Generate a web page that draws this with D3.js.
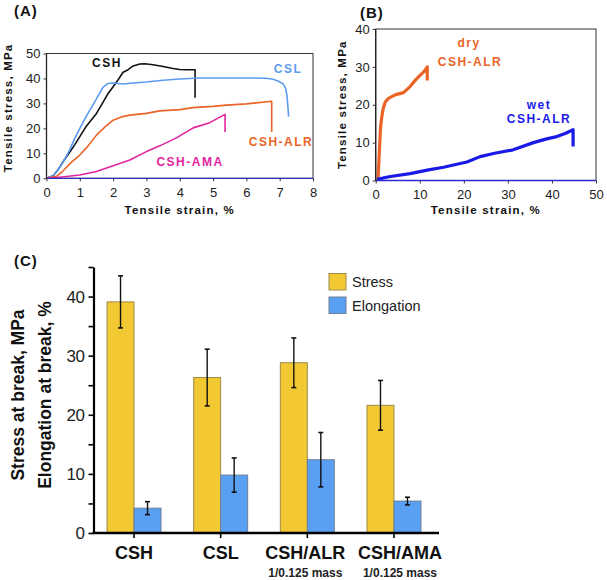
<!DOCTYPE html>
<html><head><meta charset="utf-8">
<script src="https://cdn.jsdelivr.net/npm/d3@7"></script>
<style>body{margin:0;background:#fff}svg{display:block}text{font-family:"Liberation Sans",Arial,sans-serif}</style>
</head><body><svg id="c" width="607" height="580"></svg>
<script>
// ---- Panel A data: [strain %, stress MPa]
const cshCurve = [[0,0],[0.2,1],[0.35,3.5],[0.5,6.7],[0.7,10.5],[0.85,13.5],[1,16.7],[1.2,21],[1.5,26],[1.7,30.5],[1.85,34],[2,36.7],[2.15,39.5],[2.3,42.5],[2.45,43.5],[2.6,45],[2.8,45.8],[2.95,45.9],[3.2,45.5],[3.5,44.8],[3.8,44],[4.0,43.6],[4.2,43.5],[4.46,43.5],[4.46,32.3]];
const cslCurve = [[0,0],[0.2,1],[0.35,3.5],[0.5,6.5],[0.7,11.5],[0.85,16],[1,20],[1.2,25],[1.4,29.5],[1.55,33],[1.7,36.5],[1.85,38],[2,38.2],[2.3,37.8],[2.6,38.2],[3,38.6],[3.5,39.3],[4,39.8],[4.6,40.2],[5.5,40.2],[6.3,40.2],[6.6,40.1],[6.8,39.7],[6.95,39],[7.1,37.9],[7.18,36],[7.22,33],[7.25,28],[7.27,24.7]];
const alrCurve = [[0,0],[0.3,0.8],[0.5,3],[0.75,6.5],[1,9.3],[1.25,13],[1.5,17.3],[1.75,20.5],[2,23.3],[2.25,24.6],[2.5,25.3],[3,26],[3.4,27],[4,27.5],[4.4,28.3],[5,28.8],[5.4,29.3],[6,29.8],[6.7,30.8],[6.76,30.8],[6.76,18.5]];
const amaCurve = [[0,0],[0.3,0.3],[0.6,0.7],[1,1.3],[1.25,2],[1.5,2.7],[2,5],[2.5,7.3],[3,10.7],[3.4,13],[3.9,16.2],[4.4,20.2],[4.9,22.3],[5.36,25.6],[5.36,18.5]];
const curveNamesA = ["CSH","CSL","CSH-ALR","CSH-AMA"];
const ticksA_x = [0,1,2,3,4,5,6,7,8];
const ticksA_y = [0,10,20,30,40,50];

// ---- Panel B data
const dryCurve = [[0.5,0],[0.6,2],[0.8,7],[1.1,14],[1.4,17],[1.7,19],[2.2,20.8],[2.9,21.7],[4.4,22.6],[6.3,23.2],[7.8,24.8],[9,26.5],[10,27.7],[11,28.8],[11.7,30],[11.7,26.4]];
const wetCurve = [[0.3,0.3],[3,1],[7.8,1.8],[12,2.8],[15.4,3.5],[20.7,4.9],[23.7,6.3],[27,7.2],[31.2,8.1],[35.8,10],[38.8,11],[41.1,11.6],[43,12.4],[44.8,13.4],[44.8,9]];
const ticksB_x = [0,10,20,30,40,50];
const ticksB_y = [0,10,20,30,40];

// ---- Panel C data
const categories = ["CSH","CSL","CSH/ALR","CSH/AMA"];
const subLabels = ["","","1/0.125 mass","1/0.125 mass"];
const seriesNames = ["Stress","Elongation"];
const stressMean = [39.1, 26.3, 28.8, 21.6];
const stressErr  = [4.4, 4.8, 4.2, 4.2];
const elongMean  = [4.2, 9.8, 12.4, 5.4];
const elongErr   = [1.1, 2.9, 4.6, 0.65];
const ticksC_y = [0,10,20,30,40];

const svg = d3.select("#c");
const line = d3.line();

// ================= Panel A =================
(function(){
  const x = d3.scaleLinear().domain([0,8]).range([46.5,313]);
  const y = d3.scaleLinear().domain([0,50]).range([178.3,53.5]);
  const styleA = [
    {pts:cshCurve, color:"#111111", lx:107, ly:67},
    {pts:cslCurve, color:"#5b9cf0", lx:288, ly:73},
    {pts:alrCurve, color:"#ea6428", lx:281, ly:146},
    {pts:amaCurve, color:"#e0259e", lx:190, ly:166}
  ];
  const g = svg.append("g");
  g.append("rect").attr("x",x(0)).attr("y",y(50)).attr("width",x(8)-x(0)).attr("height",y(0)-y(50))
    .attr("fill","none").attr("stroke","#333").attr("stroke-width",1);
  styleA.forEach((c,i)=>{
    g.append("path").attr("d",line.x(d=>x(d[0])).y(d=>y(d[1]))(c.pts))
      .attr("fill","none").attr("stroke",c.color).attr("stroke-width",1.6).attr("stroke-linejoin","round");
    g.append("text").attr("x",c.lx).attr("y",c.ly).attr("text-anchor","middle")
      .attr("font-size",12).attr("font-weight","bold").attr("letter-spacing",1.5)
      .attr("fill",c.color).text(curveNamesA[i]);
  });
  g.append("line").attr("x1",x(0)).attr("x2",x(8)).attr("y1",y(0)).attr("y2",y(0)).attr("stroke","#3030b8").attr("stroke-width",1.3);
  g.append("line").attr("x1",x(0)).attr("x2",x(0)).attr("y1",y(0)).attr("y2",y(50)).attr("stroke","#222").attr("stroke-width",1.3);
  const ax = g.append("g").attr("transform",`translate(0,${y(0)})`)
    .call(d3.axisBottom(x).tickValues(ticksA_x).tickSize(3).tickFormat(d3.format("d")));
  const ay = g.append("g").attr("transform",`translate(${x(0)},0)`)
    .call(d3.axisLeft(y).tickValues(ticksA_y).tickSize(3).tickFormat(d3.format("d")));
  [ax,ay].forEach(a=>{a.select(".domain").remove(); a.selectAll("line").attr("stroke","#333");
    a.selectAll("text").attr("font-size",13).attr("fill","#222").attr("font-family","Liberation Sans, Arial, sans-serif");});
  ax.selectAll("text").attr("dy","0.95em");
  g.append("text").attr("x",(x(0)+x(8))/2).attr("y",214).attr("text-anchor","middle")
    .attr("font-size",11.5).attr("font-weight","bold").attr("letter-spacing",1.2).attr("fill","#111").text("Tensile strain, %");
  g.append("text").attr("transform",`translate(12,${(y(0)+y(50))/2 - 8}) rotate(-90)`).attr("text-anchor","middle")
    .attr("font-size",11.5).attr("font-weight","bold").attr("letter-spacing",1.2).attr("fill","#111").text("Tensile stress, MPa");
  g.append("text").attr("x",14).attr("y",16).attr("font-size",15).attr("font-weight","bold").attr("letter-spacing",1).attr("fill","#111").text("(A)");
})();

// ================= Panel B =================
(function(){
  const x = d3.scaleLinear().domain([0,50]).range([375.7,596]);
  const y = d3.scaleLinear().domain([0,40]).range([180.5,29]);
  const g = svg.append("g");
  g.append("rect").attr("x",x(0)).attr("y",y(40)).attr("width",x(50)-x(0)).attr("height",y(0)-y(40))
    .attr("fill","none").attr("stroke","#333").attr("stroke-width",1);
  g.append("path").attr("d",line.x(d=>x(d[0])).y(d=>y(d[1]))(dryCurve))
    .attr("fill","none").attr("stroke","#ea6428").attr("stroke-width",3.2).attr("stroke-linejoin","round");
  g.append("path").attr("d",line.x(d=>x(d[0])).y(d=>y(d[1]))(wetCurve))
    .attr("fill","none").attr("stroke","#1a1ae8").attr("stroke-width",3.2).attr("stroke-linejoin","round");
  g.append("line").attr("x1",x(0)).attr("x2",x(50)).attr("y1",y(0)).attr("y2",y(0)).attr("stroke","#2a2ad0").attr("stroke-width",1.3);
  g.append("line").attr("x1",x(0)).attr("x2",x(0)).attr("y1",y(0)).attr("y2",y(40)).attr("stroke","#222").attr("stroke-width",1.3);
  const ax = g.append("g").attr("transform",`translate(0,${y(0)})`)
    .call(d3.axisBottom(x).tickValues(ticksB_x).tickSize(3).tickFormat(d3.format("d")));
  const ay = g.append("g").attr("transform",`translate(${x(0)},0)`)
    .call(d3.axisLeft(y).tickValues(ticksB_y).tickSize(3).tickFormat(d3.format("d")));
  [ax,ay].forEach(a=>{a.select(".domain").remove(); a.selectAll("line").attr("stroke","#333");
    a.selectAll("text").attr("font-size",13).attr("fill","#222").attr("font-family","Liberation Sans, Arial, sans-serif");});
  ax.selectAll("text").attr("dy","0.95em");
  const lab = (t,cx,cy,col)=>g.append("text").attr("x",cx).attr("y",cy).attr("text-anchor","middle")
    .attr("font-size",12).attr("font-weight","bold").attr("letter-spacing",1.5).attr("fill",col).text(t);
  lab("dry",469,47,"#ea6428"); lab("CSH-ALR",470,66,"#ea6428");
  lab("wet",539,109,"#1a1ae8"); lab("CSH-ALR",539,123,"#1a1ae8");
  g.append("text").attr("x",(x(0)+x(50))/2).attr("y",214).attr("text-anchor","middle")
    .attr("font-size",11.5).attr("font-weight","bold").attr("letter-spacing",1.2).attr("fill","#111").text("Tensile strain, %");
  g.append("text").attr("transform",`translate(346,${(y(0)+y(40))/2}) rotate(-90)`).attr("text-anchor","middle")
    .attr("font-size",11.5).attr("font-weight","bold").attr("letter-spacing",1.2).attr("fill","#111").text("Tensile stress, MPa");
  g.append("text").attr("x",360).attr("y",18).attr("font-size",15).attr("font-weight","bold").attr("letter-spacing",1).attr("fill","#111").text("(B)");
})();

// ================= Panel C =================
(function(){
  const g = svg.append("g");
  const x0 = d3.scaleBand().domain(categories).range([90.7,437.3]).paddingInner(0.377).paddingOuter(0.1885);
  const x1 = d3.scaleBand().domain(seriesNames).range([0,x0.bandwidth()]);
  const y = d3.scaleLinear().domain([0,45]).range([533,267]);
  const colors = {Stress:"#f3c933", Elongation:"#5aa0f2"};
  const strokes = {Stress:"#9c8a4c", Elongation:"#6c7f98"};
  const labelShift = [0,0,-2,6];
  const rows = categories.map((c,i)=>[
    {cat:c, s:"Stress", v:stressMean[i], e:stressErr[i]},
    {cat:c, s:"Elongation", v:elongMean[i], e:elongErr[i]}]).flat();
  g.selectAll("rect.bar").data(rows).join("rect").attr("class","bar")
    .attr("x",d=>x0(d.cat)+x1(d.s)).attr("width",x1.bandwidth())
    .attr("y",d=>y(d.v)).attr("height",d=>y(0)-y(d.v))
    .attr("fill",d=>colors[d.s]).attr("stroke",d=>strokes[d.s]).attr("stroke-width",1);
  const eb = g.selectAll("g.eb").data(rows).join("g").attr("class","eb")
    .attr("transform",d=>`translate(${x0(d.cat)+x1(d.s)+x1.bandwidth()/2},0)`);
  eb.append("line").attr("y1",d=>y(d.v+d.e)).attr("y2",d=>y(d.v-d.e)).attr("stroke","#111").attr("stroke-width",1.4);
  eb.append("line").attr("x1",-2.5).attr("x2",2.5).attr("y1",d=>y(d.v+d.e)).attr("y2",d=>y(d.v+d.e)).attr("stroke","#111").attr("stroke-width",1.6);
  eb.append("line").attr("x1",-2.5).attr("x2",2.5).attr("y1",d=>y(d.v-d.e)).attr("y2",d=>y(d.v-d.e)).attr("stroke","#111").attr("stroke-width",1.6);

  // y axis
  const ay = g.append("g").attr("transform","translate(93.5,0)")
    .call(d3.axisLeft(y).ticks(9).tickSize(5).tickSizeOuter(0).tickFormat(d=>ticksC_y.includes(d)?d:""));
  ay.select(".domain").attr("stroke","#000").attr("stroke-width",2.2);
  ay.selectAll(".tick line").attr("stroke","#000").attr("stroke-width",1.6);
  ay.selectAll("text").attr("font-size",17).attr("fill","#222").attr("font-family","Liberation Sans, Arial, sans-serif").attr("x",-9).attr("letter-spacing",-0.5);
  // x axis
  g.append("line").attr("x1",92.5).attr("x2",439).attr("y1",y(0)).attr("y2",y(0)).attr("stroke","#000").attr("stroke-width",2.4);
  const ct = g.selectAll("g.cat").data(categories).join("g").attr("class","cat")
    .attr("transform",d=>`translate(${x0(d)+x0.bandwidth()/2},${y(0)})`);
  ct.append("line").attr("y1",0).attr("y2",5).attr("stroke","#000").attr("stroke-width",1.6);
  ct.append("text").attr("x",(d,i)=>labelShift[i]).attr("y",26).attr("text-anchor","middle").attr("font-size",18).attr("font-weight","bold").attr("fill","#111").text(d=>d);
  ct.append("text").attr("x",(d,i)=>labelShift[i]).attr("y",44).attr("text-anchor","middle").attr("font-size",12).attr("font-weight","bold").attr("fill","#222")
    .text((d,i)=>subLabels[i]);

  // y title
  g.append("text").attr("transform","translate(24,395) rotate(-90)").attr("text-anchor","middle")
    .attr("font-size",17.5).attr("font-weight","bold").attr("fill","#111").text("Stress at break, MPa");
  g.append("text").attr("transform","translate(51,395) rotate(-90)").attr("text-anchor","middle")
    .attr("font-size",17.5).attr("font-weight","bold").attr("fill","#111").text("Elongation at break, %");
  // legend
  const lg = g.selectAll("g.lg").data(seriesNames).join("g").attr("class","lg")
    .attr("transform",(d,i)=>`translate(329,${273.5+i*23.5})`);
  lg.append("rect").attr("width",17).attr("height",16.5).attr("fill",d=>colors[d]).attr("stroke",d=>strokes[d]).attr("stroke-width",1);
  lg.append("text").attr("x",23).attr("y",13.5).attr("font-size",14.5).attr("fill","#222").text(d=>d);
  g.append("text").attr("x",14).attr("y",266).attr("font-size",15).attr("font-weight","bold").attr("letter-spacing",1).attr("fill","#111").text("(C)");
})();
</script></body></html>
